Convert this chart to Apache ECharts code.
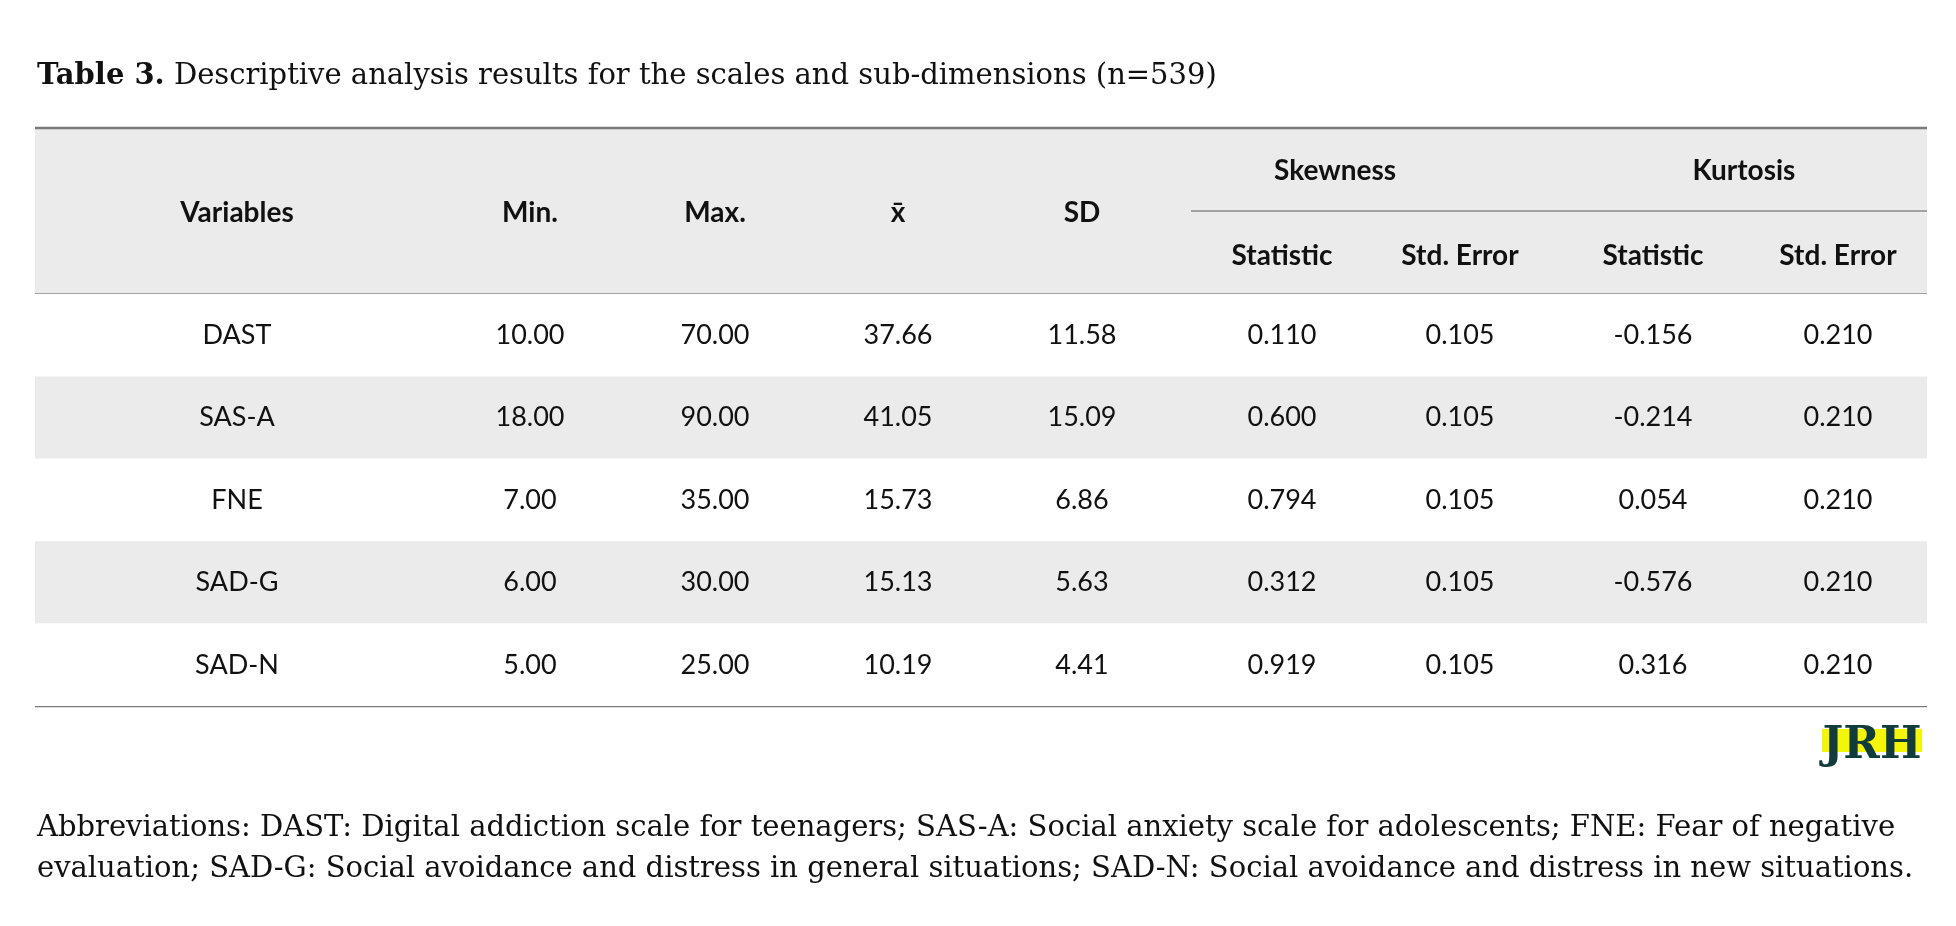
<!DOCTYPE html>
<html><head><meta charset="utf-8">
<script src="https://cdn.jsdelivr.net/npm/echarts@6/dist/echarts.min.js"></script>
<style>html,body{margin:0;padding:0;background:#fff}#c{width:1956px;height:926px}</style>
</head><body><div id="c"></div>
<script>
const variables = ['DAST','SAS-A','FNE','SAD-G','SAD-N'];
const minVals = ['10.00','18.00','7.00','6.00','5.00'];
const maxVals = ['70.00','90.00','35.00','30.00','25.00'];
const meanVals = ['37.66','41.05','15.73','15.13','10.19'];
const sdVals = ['11.58','15.09','6.86','5.63','4.41'];
const skewStat = ['0.110','0.600','0.794','0.312','0.919'];
const skewSE = ['0.105','0.105','0.105','0.105','0.105'];
const kurtStat = ['-0.156','-0.214','0.054','-0.576','0.316'];
const kurtSE = ['0.210','0.210','0.210','0.210','0.210'];
const columns = [variables,minVals,maxVals,meanVals,sdVals,skewStat,skewSE,kurtStat,kurtSE];

// layout (pixel offsets from table's left edge)
const colCenters = [202,495,680,863,1047,1247,1425,1618,1803];
const L = 35, R = 1927, TOP = 128, SUB = 211, HB = 294, BOT = 706;

const cells = [];
variables.forEach((v,r)=>columns.forEach((col,c)=>cells.push([c,r,col[r]])));
const rowsBg = variables.map((v,r)=>[r]);

const serif = 'DejaVu Serif', sans = 'Lato';
const chart = echarts.init(document.getElementById('c'));
const hText = (x,y,t)=>({type:'text',style:{x:x,y:y,text:t,font:'bold 28px '+sans,fill:'#111',textAlign:'center',textVerticalAlign:'middle'}});
chart.setOption({
  animation:false,
  grid:{left:L,right:1956-R,top:HB,bottom:926-BOT},
  xAxis:{type:'value',min:0,max:R-L,show:false},
  yAxis:{type:'category',data:variables,inverse:true,show:false},
  series:[
    {type:'custom',data:rowsBg,renderItem:(p,api)=>{
      const r=api.value(0); const s=api.size([0,1]);
      const c=api.coord([0,r]);
      return {type:'rect',shape:{x:p.coordSys.x,y:c[1]-s[1]/2,width:p.coordSys.width,height:s[1]},style:{fill:r%2===1?'#ebebeb':'#ffffff'}};
    }},
    {type:'custom',data:cells,z:3,renderItem:(p,api)=>{
      const c=api.value(0), r=api.value(1);
      const pt=api.coord([colCenters[c],r]);
      return {type:'text',style:{x:pt[0],y:pt[1],text:cells[p.dataIndex][2],font:'27px '+sans,fill:'#111',textAlign:'center',textVerticalAlign:'middle'}};
    }}
  ],
  graphic:[
    {type:'rect',shape:{x:L,y:TOP,width:R-L,height:HB-TOP},style:{fill:'#ebebeb'},z:-1},
    {type:'line',shape:{x1:L,y1:TOP,x2:R,y2:TOP},style:{stroke:'#7a7a7a',lineWidth:2.5}},
    {type:'line',shape:{x1:1191,y1:SUB,x2:R,y2:SUB},style:{stroke:'#8a8a8a',lineWidth:1.5}},
    {type:'line',shape:{x1:L,y1:HB,x2:R,y2:HB},style:{stroke:'#8a8a8a',lineWidth:1.5}},
    {type:'line',shape:{x1:L,y1:BOT,x2:R,y2:BOT},style:{stroke:'#7a7a7a',lineWidth:2.5}},
    hText(L+colCenters[0],213,'Variables'),hText(L+colCenters[1],213,'Min.'),hText(L+colCenters[2],213,'Max.'),
    hText(L+colCenters[3],213,'x̄'),hText(L+colCenters[4],213,'SD'),
    hText(1335,171,'Skewness'),hText(1744,171,'Kurtosis'),
    hText(L+colCenters[5],256,'Statistic'),hText(L+colCenters[6],256,'Std. Error'),
    hText(L+colCenters[7],256,'Statistic'),hText(L+colCenters[8],256,'Std. Error'),
    {type:'text',style:{x:37,y:76,text:'{b|Table 3.} Descriptive analysis results for the scales and sub-dimensions (n=539)',
      rich:{b:{font:'bold 29px '+serif,fill:'#111'}},font:'29px '+serif,fill:'#111',textVerticalAlign:'middle'}},
    {type:'text',style:{x:37,y:828,text:'Abbreviations: DAST: Digital addiction scale for teenagers; SAS-A: Social anxiety scale for adolescents; FNE: Fear of negative',font:'29px '+serif,fill:'#111',textVerticalAlign:'middle'}},
    {type:'text',style:{x:37,y:869,text:'evaluation; SAD-G: Social avoidance and distress in general situations; SAD-N: Social avoidance and distress in new situations.',font:'29px '+serif,fill:'#111',textVerticalAlign:'middle'}},
    {type:'rect',shape:{x:1822,y:729,width:100,height:23},style:{fill:'#f5f50a'}},
    {type:'text',style:{x:1872,y:747,text:'JRH',font:'bold 44px '+serif,fill:'#123c3c',textAlign:'center',textVerticalAlign:'middle'}}
  ]
});
</script></body></html>
